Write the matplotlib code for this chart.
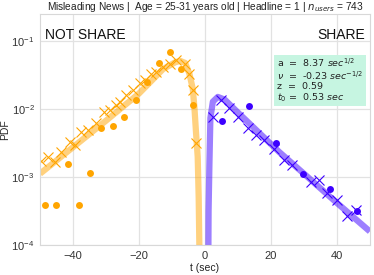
import numpy as np
import matplotlib.pyplot as plt

plt.rcParams['font.family'] = ['Liberation Sans', 'DejaVu Sans']

## empirical histogram (dots)
ns_t = [-48.5, -45.2, -41.6, -38.2, -34.8, -31.4, -27.9, -24.4, -21.0, -17.6, -14.0, -10.6, -7.2, -3.7]
ns_pdf = [3.9e-4, 3.9e-4, 1.55e-3, 3.9e-4, 1.15e-3, 5.3e-3, 5.7e-3, 7.7e-3, 1.35e-2, 2.5e-2, 4.7e-2, 6.9e-2, 3.9e-2, 1.17e-2]
sh_t = [5.2, 13.4, 21.5, 29.8, 37.8, 46.0]
sh_pdf = [6.6e-3, 1.12e-2, 3.2e-3, 1.12e-3, 6.6e-4, 3.2e-4]

## simulated (crosses), log10 values
ns_sim_t = [-49.6, -47.6, -45.5, -43.6, -41.0, -39.5, -37.5, -35.5, -33.0, -30.5, -28.7, -26.9,
            -25.8, -23.8, -21.8, -19.8, -18.3, -16.3, -14.7, -12.7, -10.7, -8.7, -6.2, -4.7, -3.7, -2.7]
ns_sim_log = [-2.77, -2.70, -2.78, -2.63, -2.48, -2.53, -2.33, -2.31, -2.21, -2.04, -2.01, -1.94,
              -1.89, -1.79, -1.72, -1.62, -1.57, -1.48, -1.45, -1.38, -1.33, -1.28, -1.33, -1.48, -1.72, -2.50]
sh_sim_t = [2.4, 4.9, 7.4, 9.9, 12.9, 15.5, 18.0, 21.0, 24.0, 26.5, 32.1, 34.6, 37.1, 40.1, 43.1, 45.7]
sh_sim_log = [-2.11, -1.87, -1.99, -2.11, -2.28, -2.38, -2.46, -2.58, -2.75, -2.82, -3.07, -3.04,
              -3.24, -3.34, -3.58, -3.49]

## fitted model curves, log10 values
ns_fit_t = [-50, -40, -30, -20, -12.7, -9, -7.5, -6, -4.7, -3.7, -3.2, -2.7, -2.2, -1.9, -1.7, -1.6]
ns_fit_log = [-2.95, -2.56, -2.17, -1.77, -1.41, -1.31, -1.29, -1.32, -1.48, -1.70, -1.97, -2.35, -2.70, -3.3, -4.0, -4.5]
sh_fit_t = [1.0, 1.1, 1.35, 1.65, 2.4, 3.9, 6, 10, 22.5, 30, 40, 50]
sh_fit_log = [-4.5, -3.5, -2.82, -2.13, -1.89, -1.82, -1.86, -2.05, -2.63, -2.95, -3.38, -3.80]

fig = plt.figure(figsize=(3.74, 2.75), dpi=100)
ax = fig.add_axes([0.107, 0.109, 0.882, 0.840])

orange = '#ffa500'
purple = '#3c00ff'

ax.plot(ns_fit_t, 10**np.array(ns_fit_log), color=orange, alpha=0.5, lw=4.5, solid_capstyle='butt')
ax.plot(sh_fit_t, 10**np.array(sh_fit_log), color=purple, alpha=0.5, lw=4.5, solid_capstyle='butt')
ax.plot(ns_sim_t, 10**np.array(ns_sim_log), 'x', color=orange, ms=7, mew=0.8)
ax.plot(sh_sim_t, 10**np.array(sh_sim_log), 'x', color=purple, ms=7, mew=0.8)
ax.plot(ns_t, ns_pdf, 'o', color=orange, ms=5, mew=0)
ax.plot(sh_t, sh_pdf, 'o', color=purple, ms=5, mew=0)

ax.set_yscale('log')
ax.set_xlim(-50, 50)
ax.set_ylim(1e-4, 10**-0.6)
ax.set_xticks([-40, -20, 0, 20, 40])
ax.grid(True, color='#e2e2e2', lw=0.9)
ax.set_axisbelow(True)
ax.minorticks_off()
for s in ax.spines.values():
    s.set_color('#d8d8d8')
ax.tick_params(length=0, labelsize=8, colors='#333333', pad=4)

ax.text(-48.5, 10**-0.91, 'NOT SHARE', fontsize=10, ha='left', va='center', color='#111111')
ax.text(48.5, 10**-0.91, 'SHARE', fontsize=10, ha='right', va='center', color='#111111')

box_txt = ('a  =  8.37 $sec^{1/2}$\n'
           '$\\nu$  =  -0.23 $sec^{-1/2}$\n'
           'z  =  0.59\n'
           '$t_0$ =  0.53 $sec$')
ax.text(21.9, 10**-1.23, box_txt, fontsize=6.8, family='DejaVu Sans', va='top', ha='left',
        linespacing=1.0, color='#222222',
        bbox=dict(boxstyle='square,pad=0.3', facecolor='#c6f5e1', edgecolor='none'))

ax.set_title('Misleading News |  Age = 25-31 years old | Headline = 1 | $n_{users}$ = 743',
             fontsize=7.3, pad=3, color='#222222')
ax.set_xlabel('t (sec)', fontsize=7.5, labelpad=2, color='#222222')
ax.set_ylabel('PDF', fontsize=7.5, color='#222222')
ax.yaxis.set_label_coords(-0.09, 0.5)

fig.savefig('out.png', dpi=100)
